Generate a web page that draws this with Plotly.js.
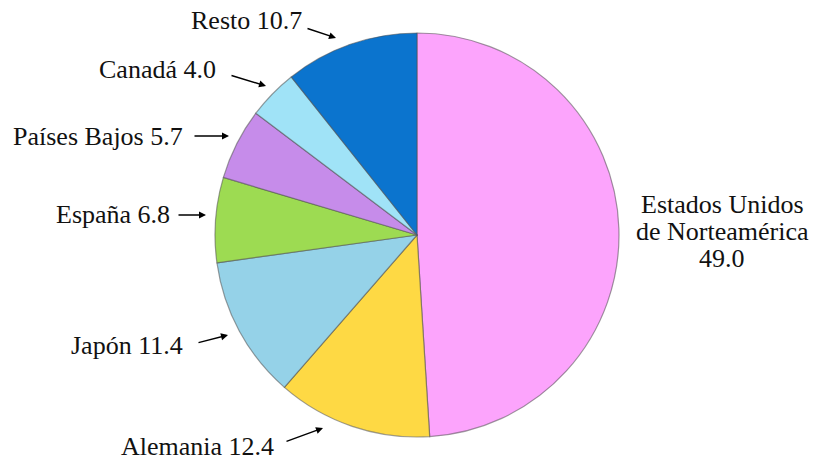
<!DOCTYPE html>
<html>
<head>
<meta charset="utf-8">
<script src="https://cdn.plot.ly/plotly-3.0.1.min.js"></script>
<style>html,body{margin:0;padding:0;background:#fff;}#chart{width:817px;height:461px;}</style>
</head>
<body>
<div id="chart"></div>
<script>
// Data
var countries = ["Estados Unidos de Norteamérica", "Alemania", "Japón", "España", "Países Bajos", "Canadá", "Resto"];
var shares = [49.0, 12.4, 11.4, 6.8, 5.7, 4.0, 10.7];
var sliceColors = ["#FCA4FC", "#FED944", "#95D2E8", "#9DDB52", "#C68CEA", "#A0E3F7", "#0B74CE"];

var W = 817, H = 461;
function px(x) { return x / W; }
function py(y) { return 1 - y / H; }

// Pie geometry (pixels): centre and radius
var cx = 417, cy = 235, R = 202;

var trace = {
  type: "pie",
  labels: countries,
  values: shares,
  sort: false,
  direction: "clockwise",
  rotation: 0,
  textinfo: "none",
  hoverinfo: "label+value",
  marker: { colors: sliceColors, line: { color: "rgba(80,80,80,0.55)", width: 1.2 } },
  domain: { x: [px(cx - R), px(cx + R)], y: [py(cy + R), py(cy - R)] },
  showlegend: false
};

// Label layout (pixel positions of labels and arrows)
var labelFont = { family: "Times New Roman, Liberation Serif, Tinos, DejaVu Serif, serif", size: 26, color: "#111" };
var outsideLabels = [
  { i: 6, right: 304, y: 20,  tail: [306, 28],  head: [336, 38] },
  { i: 5, right: 218, y: 70,  tail: [230, 75],  head: [266, 86] },
  { i: 4, right: 185, y: 136, tail: [193, 136], head: [229, 136] },
  { i: 3, right: 172, y: 215, tail: [177, 215], head: [206, 215] },
  { i: 2, right: 185, y: 345, tail: [197, 343], head: [228, 335] },
  { i: 1, right: 276, y: 446, tail: [285, 442], head: [323, 428] }
];

var annotations = [];
outsideLabels.forEach(function (L) {
  annotations.push({
    xref: "paper", yref: "paper", x: px(L.right), y: py(L.y),
    xanchor: "right", yanchor: "middle", showarrow: false,
    text: countries[L.i] + " " + shares[L.i].toFixed(1),
    font: labelFont
  });
  annotations.push({
    xref: "paper", yref: "paper", x: px(L.head[0]), y: py(L.head[1]),
    ax: L.tail[0] - L.head[0], ay: L.tail[1] - L.head[1],
    showarrow: true, arrowhead: 2, arrowsize: 1, arrowwidth: 1.4,
    arrowcolor: "#000", standoff: 0, startstandoff: 0,
    font: { size: 1 }
  });
});

// Right-hand label for the largest slice (three lines)
var usLines = ["Estados Unidos", "de Norteamérica", shares[0].toFixed(1)];
var usY = [204, 231, 258];
usLines.forEach(function (t, k) {
  annotations.push({
    xref: "paper", yref: "paper", x: px(722), y: py(usY[k]),
    xanchor: "center", yanchor: "middle", showarrow: false,
    text: t, font: labelFont
  });
});

var layout = {
  width: W, height: H,
  margin: { l: 0, r: 0, t: 0, b: 0 },
  font: { family: "Times New Roman, Liberation Serif, DejaVu Serif, serif" },
  paper_bgcolor: "#ffffff",
  plot_bgcolor: "#ffffff",
  showlegend: false,
  annotations: annotations
};

Plotly.newPlot("chart", [trace], layout, { displayModeBar: false, staticPlot: true });
</script>
</body>
</html>
